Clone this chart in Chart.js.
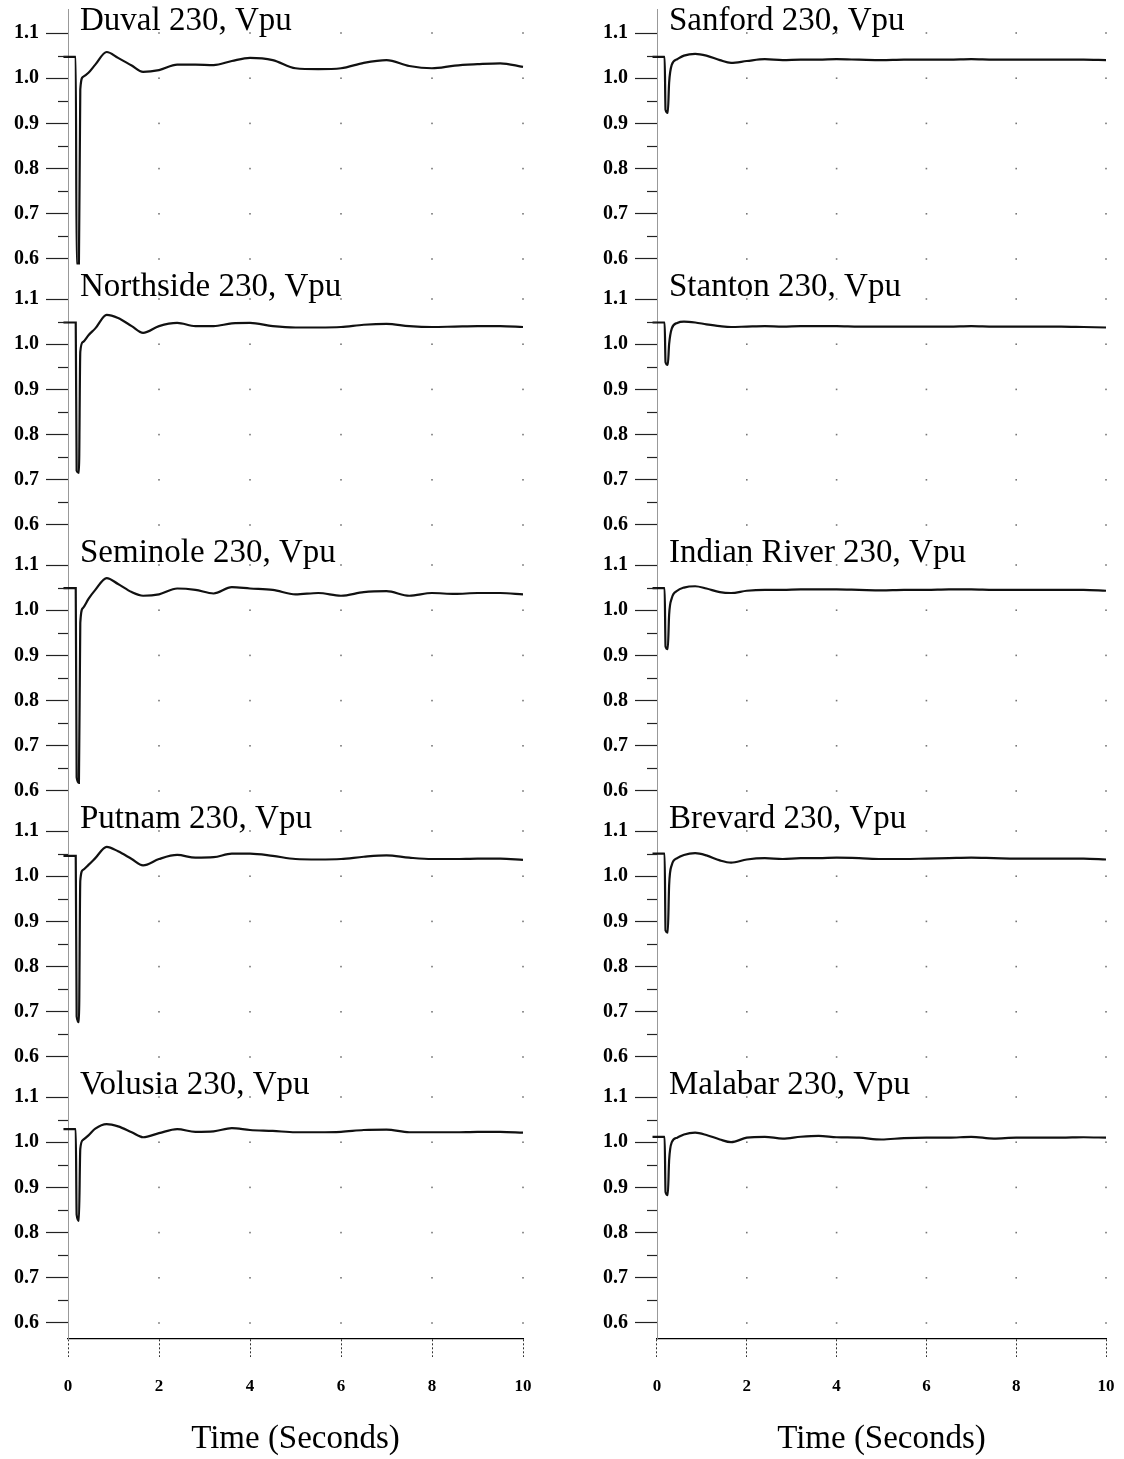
<!DOCTYPE html>
<html>
<head>
<meta charset="utf-8">
<script src="https://cdn.jsdelivr.net/npm/chart.js@4"></script>
<style>
    body { margin: 0; background: #fff; overflow: hidden; }
    #wrap { position: relative; width: 1124px; height: 1459px; }
    canvas { position: absolute; top: 0; }
</style>
</head>
<body>
<div id="wrap">
    <canvas id="left" width="562" height="1459" style="left:0"></canvas>
    <canvas id="right" width="562" height="1459" style="left:562px"></canvas>
</div>
<script>
// sample times (s) shared by every trace
const times = [-0.1, 0.17, 0.19, 0.24, 0.27, 0.33, 0.45, 0.6, 0.85, 1.1, 1.4, 1.65, 2.0, 2.4, 2.8, 3.2, 3.6, 4.0, 4.5, 5.0, 5.5, 6.0, 6.5, 7.0, 7.5, 8.0, 8.5, 9.0, 9.5, 10.0]

const leftNames = ["Duval 230, Vpu", "Northside 230, Vpu", "Seminole 230, Vpu", "Putnam 230, Vpu", "Volusia 230, Vpu"]
const rightNames = ["Sanford 230, Vpu", "Stanton 230, Vpu", "Indian River 230, Vpu", "Brevard 230, Vpu", "Malabar 230, Vpu"]

const duval = [1.047, 1.047, 0.59, 0.59, 0.975, 1.003, 1.012, 1.03, 1.058, 1.045, 1.028, 1.014, 1.018, 1.03, 1.03, 1.029, 1.038, 1.045, 1.040, 1.022, 1.020, 1.022, 1.034, 1.040, 1.027, 1.022, 1.028, 1.031, 1.033, 1.025]
const northside = [1.048, 1.048, 0.72, 0.715, 0.983, 1.005, 1.02, 1.035, 1.065, 1.058, 1.04, 1.025, 1.04, 1.047, 1.04, 1.04, 1.046, 1.047, 1.04, 1.037, 1.037, 1.038, 1.043, 1.045, 1.04, 1.038, 1.039, 1.04, 1.04, 1.038]
const seminole = [1.049, 1.049, 0.63, 0.618, 0.972, 1.005, 1.025, 1.045, 1.071, 1.058, 1.04, 1.032, 1.035, 1.048, 1.045, 1.037, 1.051, 1.048, 1.045, 1.035, 1.038, 1.032, 1.04, 1.042, 1.032, 1.038, 1.036, 1.038, 1.038, 1.035]
const putnam = [1.045, 1.045, 0.69, 0.677, 0.99, 1.014, 1.025, 1.04, 1.065, 1.055, 1.038, 1.024, 1.038, 1.047, 1.041, 1.042, 1.05, 1.05, 1.045, 1.038, 1.037, 1.038, 1.043, 1.046, 1.041, 1.038, 1.038, 1.039, 1.039, 1.036]
const volusia = [1.029, 1.029, 0.84, 0.826, 0.985, 1.005, 1.015, 1.03, 1.04, 1.035, 1.022, 1.011, 1.02, 1.029, 1.023, 1.024, 1.031, 1.027, 1.025, 1.022, 1.022, 1.023, 1.027, 1.028, 1.022, 1.022, 1.022, 1.023, 1.023, 1.021]

const sanford = [1.047, 1.047, 0.93, 0.923, 0.99, 1.03, 1.042, 1.05, 1.054, 1.05, 1.04, 1.034, 1.038, 1.042, 1.04, 1.041, 1.041, 1.042, 1.041, 1.04, 1.041, 1.041, 1.041, 1.042, 1.041, 1.041, 1.041, 1.041, 1.041, 1.04]
const stanton = [1.048, 1.048, 0.96, 0.954, 1.0, 1.035, 1.047, 1.05, 1.048, 1.044, 1.04, 1.038, 1.039, 1.04, 1.039, 1.04, 1.04, 1.04, 1.039, 1.039, 1.039, 1.039, 1.039, 1.04, 1.039, 1.039, 1.039, 1.039, 1.038, 1.037]
const indianRiver = [1.049, 1.049, 0.92, 0.914, 0.99, 1.027, 1.043, 1.05, 1.053, 1.048, 1.04, 1.038, 1.043, 1.045, 1.045, 1.046, 1.046, 1.046, 1.045, 1.044, 1.045, 1.045, 1.046, 1.046, 1.045, 1.045, 1.045, 1.045, 1.045, 1.043]
const brevard = [1.05, 1.05, 0.88, 0.875, 0.98, 1.025, 1.04, 1.047, 1.051, 1.046, 1.035, 1.03, 1.037, 1.04, 1.038, 1.04, 1.04, 1.041, 1.04, 1.038, 1.038, 1.039, 1.04, 1.041, 1.04, 1.039, 1.039, 1.039, 1.039, 1.037]
const malabar = [1.012, 1.012, 0.89, 0.883, 0.96, 1.0, 1.01, 1.017, 1.021, 1.016, 1.006, 1.0, 1.01, 1.012, 1.008, 1.012, 1.014, 1.011, 1.01, 1.006, 1.009, 1.01, 1.01, 1.012, 1.008, 1.01, 1.01, 1.01, 1.011, 1.01]

const yTickValues = [0.6, 0.7, 0.8, 0.9, 1.0, 1.1]
const yMinorValues = [0.65, 0.75, 0.85, 0.95, 1.05]
const gridDotX = [2, 4, 6, 8, 10]

const serif = "'Liberation Serif', 'Times New Roman', serif"

// titles, minor ticks and the dotted grid, all placed through the chart's scales
const panelDecor = {
    id: "panelDecor",
    afterDraw(chart) {
        let c = chart.ctx, area = chart.chartArea, xs = chart.scales.x
        c.save()
        chart.options.panelNames.forEach((name, k) => {
            let ys = chart.scales["y" + k]
            c.fillStyle = "#777"
            yTickValues.forEach(v => {
                gridDotX.forEach(t => {
                    c.fillRect(xs.getPixelForValue(t) - 0.8, ys.getPixelForValue(v) - 0.8, 1.6, 1.6)
                })
            })
            c.strokeStyle = "#222"
            c.lineWidth = 1.2
            yMinorValues.forEach(v => {
                let py = Math.round(ys.getPixelForValue(v)) + 0.5
                c.beginPath()
                c.moveTo(area.left - 10, py)
                c.lineTo(area.left, py)
                c.stroke()
            })
            c.fillStyle = "#000"
            c.font = "33px " + serif
            c.textBaseline = "alphabetic"
            c.fillText(name, area.left + 12, ys.getPixelForValue(1.1) - 3)
        })
        c.restore()
    }
}

function makeColumn(id, names, series, padLeft, padRight) {
    let scales = {
        x: {
            type: "linear", min: 0, max: 10, position: "bottom",
            ticks: { stepSize: 2, color: "#000", padding: 19, font: { family: serif, size: 17, weight: "bold" } },
            grid: { drawOnChartArea: false, tickLength: 18, tickBorderDash: [2, 2], tickColor: "#333" },
            border: { color: "#000", width: 1.3 },
            title: { display: true, text: "Time (Seconds)", color: "#000", font: { family: serif, size: 33 }, padding: { top: 0, bottom: 0 } },
            afterFit: s => { s.height = 120; s.paddingLeft = 0; s.paddingRight = 0 }
        }
    }
    names.forEach((n, k) => {
        scales["y" + k] = {
            type: "linear", position: "left", stack: "col", stackWeight: 1, weight: 5 - k,
            min: 0.5646, max: 1.1531,
            afterBuildTicks: s => { s.ticks = yTickValues.map(v => ({ value: v })) },
            ticks: { color: "#000", padding: 7, font: { family: serif, size: 20, weight: "bold" }, callback: v => v.toFixed(1) },
            grid: { drawOnChartArea: false, tickLength: 22, tickColor: "#222", tickWidth: 1.2 },
            border: { display: true, color: "#999", dash: [1, 3], width: 1 },
            afterFit: s => { s.width = 68; s.paddingTop = 0; s.paddingBottom = 0 }
        }
    })
    let datasets = series.map((vals, k) => ({
        label: names[k],
        data: times.map((t, i) => ({ x: t, y: vals[i] })),
        yAxisID: "y" + k,
        borderColor: "#111",
        borderWidth: 2.2,
        pointRadius: 0,
        cubicInterpolationMode: "monotone",
        clip: false
    }))
    return new Chart(document.getElementById(id), {
        type: "line",
        data: { datasets: datasets },
        options: {
            responsive: false,
            animation: false,
            panelNames: names,
            layout: { padding: { left: padLeft, right: padRight, top: 9, bottom: 0 } },
            plugins: { legend: { display: false }, tooltip: { enabled: false } },
            scales: scales
        },
        plugins: [panelDecor]
    })
}

makeColumn("left", leftNames, [duval, northside, seminole, putnam, volusia], 0, 39)
makeColumn("right", rightNames, [sanford, stanton, indianRiver, brevard, malabar], 27, 18)
</script>
</body>
</html>
